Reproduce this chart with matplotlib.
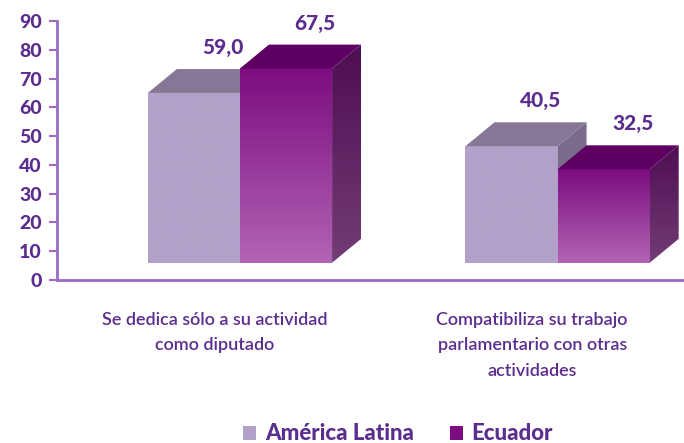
import matplotlib
matplotlib.use("Agg")
import matplotlib.pyplot as plt
import numpy as np
from matplotlib.patches import Polygon, Rectangle
from matplotlib.colors import LinearSegmentedColormap

categories = ["Se dedica sólo a su actividad\ncomo diputado",
              "Compatibiliza su trabajo\nparlamentario con otras\nactividades"]
series_names = ["América Latina", "Ecuador"]
america_latina = [59.0, 40.5]
ecuador = [67.5, 32.5]
value_labels = [["59,0", "40,5"], ["67,5", "32,5"]]
yticks = [0, 10, 20, 30, 40, 50, 60, 70, 80, 90]

plt.rcParams['font.family'] = ['Lato', 'DejaVu Sans']

fig = plt.figure(figsize=(6.84, 4.43), dpi=100)
ax = fig.add_axes([57/684, (443-280)/443, 627/684, 259/443])

axis_col = '#9a6cc4'
text_col = '#5b2d8e'

w = 0.29
dx = 0.0913
dy = 8.3
base = 6.0

front_cols = [
    ('#b1a1c8', '#b1a1c8'),   # top, bottom
    ('#7c0c80', '#b264b4'),
]
top_cols = ['#857795', '#5e0062']
side_cols = [('#7a6d8b', '#7a6d8b'), ('#4e0d52', '#733d76')]

def grad_fill(ax, verts, ctop, cbot, y0, y1):
    poly = Polygon(verts, closed=True, facecolor='none', edgecolor='none')
    ax.add_patch(poly)
    cmap = LinearSegmentedColormap.from_list('g', [cbot, ctop])
    xs = [v[0] for v in verts]
    grad = np.linspace(0, 1, 256).reshape(-1, 1)
    im = ax.imshow(grad, cmap=cmap, origin='lower', aspect='auto',
                   extent=[min(xs), max(xs), y0, y1], zorder=3,
                   interpolation='bilinear')
    im.set_clip_path(poly)

all_series = [america_latina, ecuador]
for i in range(len(categories)):
    for j, vals in enumerate(all_series):
        v = vals[i]
        x0 = i - w + j * w
        x1 = x0 + w
        top = base + v
        grad_fill(ax, [(x0, base), (x1, base), (x1, top), (x0, top)],
                  front_cols[j][0], front_cols[j][1], base, top)
        ax.add_patch(Polygon([(x0, top), (x1, top), (x1 + dx, top + dy), (x0 + dx, top + dy)],
                             closed=True, facecolor=top_cols[j], edgecolor='none', zorder=3))
        grad_fill(ax, [(x1, base), (x1 + dx, base + dy), (x1 + dx, top + dy), (x1, top)],
                  side_cols[j][0], side_cols[j][1], base, top + dy)
        ax.text(x0 + w / 2 + dx, top + dy + 7.5, value_labels[j][i],
                ha='center', va='center', fontsize=15, fontweight='black',
                color=text_col, zorder=5)

ax.set_xlim(-0.576, 1.398)
ax.set_ylim(0, 90)
ax.set_yticks(yticks)
ax.set_yticklabels([str(t) for t in yticks], fontsize=14, fontweight='black', color=text_col)
ax.set_xticks([])
for s in ['top', 'right']:
    ax.spines[s].set_visible(False)
for s in ['left', 'bottom']:
    ax.spines[s].set_color(axis_col)
    ax.spines[s].set_linewidth(2)
ax.tick_params(axis='y', direction='out', length=6, width=1.5, color=axis_col, pad=5)
ax.patch.set_alpha(0)

for i, cat in enumerate(categories):
    ax.text(i - 0.08, -11.0, cat, ha='center', va='top',
            fontsize=13, fontweight='semibold', color=text_col, linespacing=1.75, clip_on=False)

handles = [Rectangle((0, 0), 1, 1, facecolor=front_cols[0][1], edgecolor='none'),
           Rectangle((0, 0), 1, 1, facecolor=front_cols[1][0], edgecolor='none')]
leg = fig.legend(handles, series_names, loc='center', bbox_to_anchor=(398/684, 1 - 434/443),
                 ncol=2, frameon=False, handlelength=0.6, handleheight=0.6,
                 handletextpad=0.4, columnspacing=1.6,
                 prop={'size': 16, 'weight': 'black', 'family': ['Lato', 'DejaVu Sans']})
for t in leg.get_texts():
    t.set_color(text_col)

fig.savefig('out.png', dpi=100)
